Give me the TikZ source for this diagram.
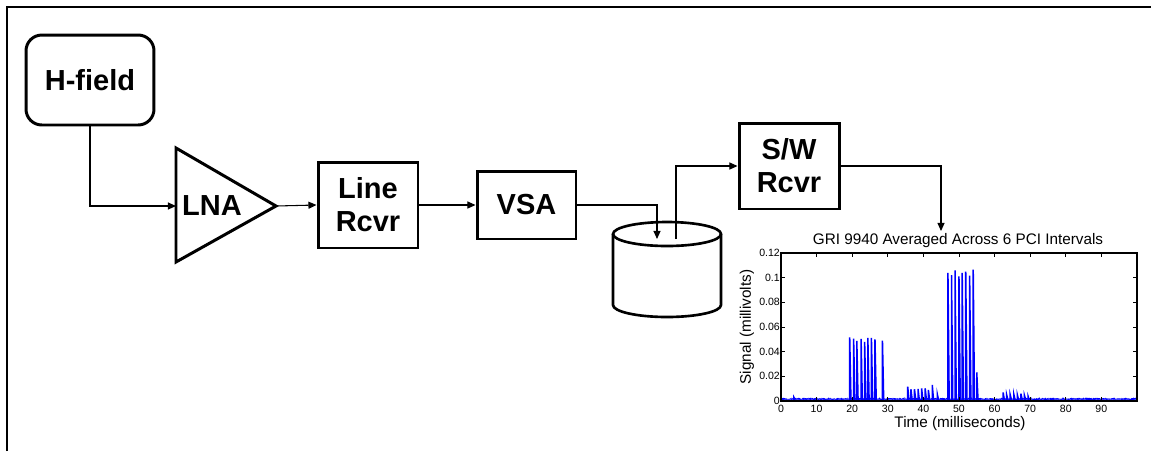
\documentclass[tikz,border=0pt]{standalone}
\usepackage{fontspec}
\setmainfont{Liberation Sans}
\usetikzlibrary{arrows.meta}
\begin{document}
\begin{tikzpicture}[x=0.02cm,y=-0.02cm,
  blk/.style={draw,line width=1.7pt,align=center,inner sep=0pt,
    font=\bfseries\fontsize{16.5}{18.7}\selectfont},
  conn/.style={line width=0.6pt,-{Triangle[length=4.6pt,width=4pt]}},
  spike/.style={blue,line width=0.85pt},
  ticklab/.style={font=\fontsize{6}{7}\selectfont,inner sep=0.5pt},
  axlab/.style={font=\fontsize{8.7}{10}\selectfont,inner sep=0pt}]
\useasboundingbox (0,0) rectangle (1151,451);
% frame
\draw[line width=0.9pt] (7,451) -- (7,7) -- (1151,7);
% blocks
\node[blk,rounded corners=9pt,minimum width=2.56cm,minimum height=1.8cm] (hfield) at (90,80) {H-field};
\draw[line width=1.7pt,line join=miter] (176,148) -- (276,206) -- (176,262) -- cycle;
\coordinate (lnain) at (176,206);
\coordinate (lnaout) at (276,206);
\node[font=\bfseries\fontsize{16.5}{18.7}\selectfont,inner sep=0pt] (lna) at (212,206) {LNA};
\node[blk,minimum width=2cm,minimum height=1.72cm] (line) at (368,205) {Line\\Rcvr};
\node[blk,minimum width=1.98cm,minimum height=1.36cm] (vsa) at (526.5,205) {VSA};
\node[blk,minimum width=2cm,minimum height=1.72cm] (sw) at (789,166) {S/W\\Rcvr};
% cylinder (storage)
\draw[line width=1.5pt] (613,234) -- (613,305) arc[start angle=180,end angle=360,x radius=54,y radius=-12] -- (721,234);
\draw[line width=1.5pt] (667,234) ellipse[x radius=54,y radius=12];
\coordinate (cylin) at (657,239);
\coordinate (cylout) at (676,239);
% connectors
\draw[conn] (hfield.south) |- (lnain);
\draw[conn] (lnaout) -- (line.west);
\draw[conn] (line.east) -- (vsa.west);
\draw[conn] (vsa.east) -| (cylin);
\draw[conn] (cylout) |- (sw.west);
\coordinate (chartin) at (941,231);
\draw[conn] (sw.east) -| (chartin);
% chart
\node[axlab] (title) at (958,241) {GRI 9940 Averaged Across 6 PCI Intervals};
\node[axlab] (xlab) at (960,424) {Time (milliseconds)};
\node[axlab,rotate=90] (ylab) at (747,327) {Signal (millivolts)};
\begin{scope}[shift={(781,401)},x=0.0712cm,y=24.6667cm]
  \pgfmathsetseed{7}
  \draw[blue,line width=1.1pt] plot[domain=0:100,samples=420] (\x,{0.0008+0.0010*rnd});
  \draw[blue!70,line width=0.4pt] plot[domain=0:100,samples=300] (\x,{0.0004+0.0024*rnd*rnd});
  \foreach \t/\h in {3.6/0.003,19.3/0.0517,20.4/0.0506,21.3/0.0488,22.5/0.0504,23.5/0.048,24.4/0.0512,25.4/0.0512,26.4/0.050,28.5/0.049,
    35.6/0.0116,36.5/0.0095,37.5/0.0095,38.5/0.0098,39.5/0.0103,40.5/0.0103,41.4/0.009,42.5/0.013,43.9/0.0057,
    46.9/0.104,47.9/0.102,48.9/0.106,50/0.101,50.9/0.104,51.9/0.105,53/0.1016,54/0.1065,55/0.0233,
    62.4/0.007,63.4/0.005,64.4/0.005,65.4/0.0055,66.4/0.005,67.4/0.006,68.4/0.0045,69.4/0.004}
    \draw[spike] (\t,0.001) -- (\t,\h) -- (\t+0.35,0.001);
  \draw[line width=0.8pt] (0,0) rectangle (100,0.12);
  \foreach \v/\l in {0/0,0.02/0.02,0.04/0.04,0.06/0.06,0.08/0.08,0.1/0.1,0.12/0.12} {
    \draw[line width=0.5pt] (0,\v) -- (1.1,\v);
    \draw[line width=0.5pt] (100,\v) -- (98.9,\v);
    \node[ticklab,anchor=east] at (0,\v) {\l};
  }
  \foreach \t in {0,10,...,90} {
    \draw[line width=0.5pt] (\t,0) -- (\t,0.0032);
    \draw[line width=0.5pt] (\t,0.12) -- (\t,0.1168);
    \node[ticklab,anchor=north] at (\t,-0.0025) {\t};
  }
\end{scope}
\end{tikzpicture}
\end{document}
